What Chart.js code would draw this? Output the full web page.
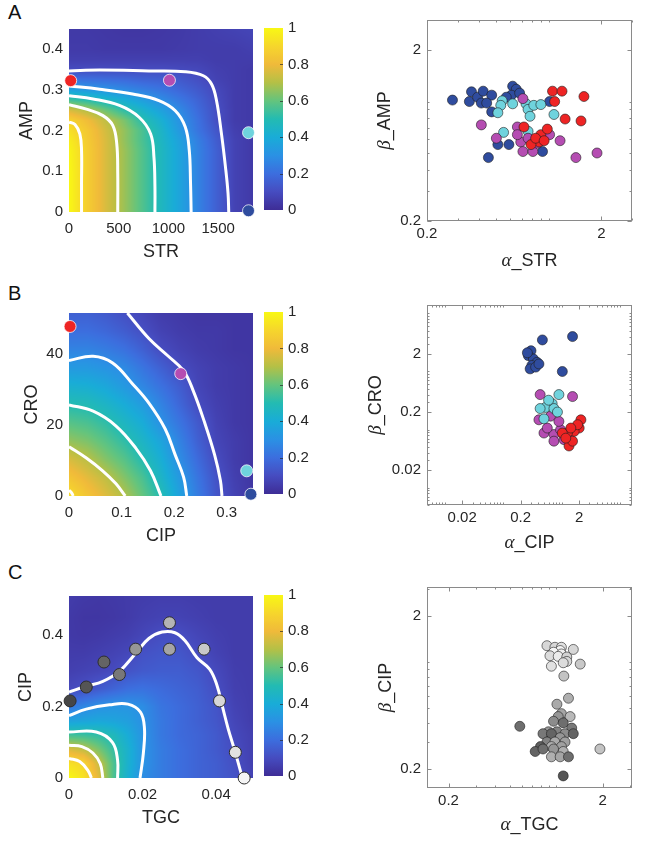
<!DOCTYPE html>
<html>
<head>
<meta charset="utf-8">
<script src="https://cdn.jsdelivr.net/npm/chart.js@4.4.1/dist/chart.umd.min.js"></script>
<style>
  body { margin: 0; background: #fff; }
  #fig { position: relative; width: 645px; height: 844px; overflow: hidden; }
  .panel { position: absolute; left: 8px; font: 20px "Liberation Sans", Arial, sans-serif; color: #111; }
</style>
</head>
<body>
<div id="fig">
  <div class="panel" style="top:1px">A</div>
  <div class="panel" style="top:282px">B</div>
  <div class="panel" style="top:561px">C</div>
</div>
<script>
// ===== DATA =====

// --- A: STR x AMP surface ---
const strTicks = [0, 500, 1000, 1500];
const ampTicks = [0, 0.1, 0.2, 0.3, 0.4];
const strGrid = [0, 185, 370, 555, 740, 925, 1110, 1295, 1480, 1665, 1850];
const ampGrid = [0, 0.1, 0.15, 0.175, 0.2, 0.225, 0.25, 0.275, 0.3, 0.325, 0.35, 0.375, 0.4, 0.45];
const effStrAmp = [
  [1.00, 0.87, 0.76, 0.67, 0.57, 0.47, 0.37, 0.26, 0.16, 0.07, 0.04],
  [1.00, 0.87, 0.76, 0.67, 0.57, 0.47, 0.37, 0.26, 0.16, 0.07, 0.04],
  [0.99, 0.87, 0.76, 0.67, 0.57, 0.47, 0.37, 0.26, 0.16, 0.07, 0.04],
  [0.97, 0.86, 0.76, 0.66, 0.56, 0.46, 0.36, 0.25, 0.15, 0.07, 0.04],
  [0.93, 0.85, 0.75, 0.66, 0.56, 0.45, 0.33, 0.22, 0.13, 0.06, 0.04],
  [0.89, 0.81, 0.72, 0.63, 0.51, 0.42, 0.31, 0.21, 0.11, 0.05, 0.04],
  [0.76, 0.70, 0.61, 0.52, 0.44, 0.36, 0.28, 0.19, 0.11, 0.05, 0.04],
  [0.55, 0.51, 0.46, 0.41, 0.35, 0.29, 0.23, 0.17, 0.10, 0.05, 0.04],
  [0.36, 0.33, 0.31, 0.28, 0.25, 0.22, 0.18, 0.14, 0.09, 0.05, 0.04],
  [0.22, 0.21, 0.20, 0.19, 0.17, 0.16, 0.14, 0.11, 0.07, 0.05, 0.04],
  [0.10, 0.10, 0.10, 0.10, 0.10, 0.10, 0.095, 0.085, 0.06, 0.05, 0.04],
  [0.06, 0.06, 0.06, 0.06, 0.06, 0.06, 0.06, 0.06, 0.05, 0.05, 0.05],
  [0.045, 0.045, 0.04, 0.04, 0.04, 0.04, 0.045, 0.05, 0.05, 0.05, 0.06],
  [0.04, 0.04, 0.035, 0.03, 0.03, 0.035, 0.04, 0.05, 0.06, 0.07, 0.08]
];
// iso-lines 0.1, 0.3, 0.5, 0.7, 0.9 as [STR, AMP]
const strAmpContours = [
  [[0, 0.347], [308, 0.349], [805, 0.347], [1169, 0.345], [1351, 0.335], [1434, 0.314], [1483, 0.274], [1533, 0.192], [1573, 0.111], [1599, 0.046], [1606, 0]],
  [[0, 0.310], [308, 0.302], [639, 0.290], [904, 0.274], [1069, 0.249], [1169, 0.209], [1209, 0.152], [1222, 0.070], [1228, 0]],
  [[0, 0.286], [242, 0.278], [507, 0.262], [705, 0.233], [821, 0.192], [854, 0.135], [864, 0.062], [864, 0]],
  [[0, 0.264], [175, 0.253], [341, 0.237], [440, 0.213], [480, 0.168], [490, 0.095], [490, 0]],
  [[0, 0.221], [60, 0.215], [109, 0.192], [126, 0.152], [126, 0.070], [126, 0]]
];
const strDose = [17, 1010, 1805, 1805];
const ampDose = [0.323, 0.324, 0.195, 0.003];

// --- A: alpha_STR x beta_AMP fits ---
const alphaStrRed = [1.05, 1.19, 1.08, 1.59, 1.24, 1.53, 0.72, 0.90, 0.88, 0.98, 0.79, 0.84, 0.94];
const betaAmpRed = [1.15, 1.15, 1.00, 1.07, 0.79, 0.77, 0.71, 0.64, 0.58, 0.69, 0.56, 0.61, 0.59];
const alphaStrMagenta = [0.41, 0.71, 0.66, 0.50, 0.69, 0.76, 0.71, 0.81, 1.01, 1.16, 1.43, 1.89, 0.86, 0.66];
const betaAmpMagenta = [0.73, 1.04, 0.71, 0.61, 0.58, 0.61, 0.51, 0.51, 0.64, 0.59, 0.47, 0.50, 0.57, 0.64];
const alphaStrCyan = [0.54, 0.53, 0.62, 0.74, 0.76, 0.82, 0.90, 0.78, 1.07, 0.55, 0.76, 0.51];
const betaAmpCyan = [1.01, 0.95, 0.97, 0.97, 0.90, 0.95, 0.96, 0.82, 0.84, 0.66, 0.67, 0.86];
const alphaStrBlue = [0.28, 0.36, 0.35, 0.39, 0.42, 0.41, 0.47, 0.44, 0.47, 0.62, 0.65, 0.61, 0.68, 0.57, 1.01, 0.51, 0.59, 0.45, 0.92];
const betaAmpBlue = [1.02, 1.14, 1.00, 1.06, 1.15, 0.98, 1.09, 0.98, 0.87, 1.23, 1.18, 1.09, 1.12, 1.06, 1.00, 0.56, 0.56, 0.47, 0.51];

// --- B: CIP x CRO surface ---
const cipTicksB = [0, 0.1, 0.2, 0.3];
const croTicks = [0, 20, 40];
const cipGridB = [0, 0.035, 0.07, 0.105, 0.14, 0.175, 0.21, 0.245, 0.28, 0.315, 0.35];
const croGrid = [0, 5.16, 10.32, 15.48, 20.64, 25.8, 30.96, 36.12, 41.28, 46.44, 51.6];
const effCipCro = [
  [0.92, 0.84, 0.77, 0.70, 0.60, 0.50, 0.36, 0.24, 0.13, 0.07, 0.03],
  [0.84, 0.78, 0.72, 0.64, 0.56, 0.45, 0.33, 0.22, 0.12, 0.06, 0.03],
  [0.76, 0.71, 0.64, 0.58, 0.50, 0.41, 0.29, 0.19, 0.10, 0.05, 0.03],
  [0.66, 0.63, 0.58, 0.52, 0.45, 0.37, 0.26, 0.16, 0.08, 0.05, 0.03],
  [0.58, 0.56, 0.52, 0.46, 0.40, 0.30, 0.22, 0.14, 0.07, 0.04, 0.03],
  [0.50, 0.49, 0.45, 0.40, 0.34, 0.26, 0.18, 0.10, 0.06, 0.04, 0.03],
  [0.42, 0.41, 0.38, 0.33, 0.27, 0.21, 0.15, 0.08, 0.05, 0.04, 0.03],
  [0.33, 0.33, 0.31, 0.28, 0.22, 0.16, 0.10, 0.07, 0.05, 0.04, 0.03],
  [0.26, 0.26, 0.24, 0.21, 0.16, 0.10, 0.07, 0.05, 0.04, 0.03, 0.03],
  [0.20, 0.20, 0.18, 0.15, 0.11, 0.07, 0.05, 0.04, 0.04, 0.03, 0.03],
  [0.16, 0.16, 0.14, 0.11, 0.08, 0.05, 0.04, 0.03, 0.03, 0.03, 0.03]
];
const cipCroContours = [
  [[0.111, 51.6], [0.152, 44.4], [0.189, 39.4], [0.218, 35.3], [0.236, 29.8], [0.258, 20.7], [0.277, 11.6], [0.288, 4.4], [0.291, 0]],
  [[0, 38.2], [0.046, 39.4], [0.083, 37.5], [0.121, 31.6], [0.152, 26.2], [0.183, 18.9], [0.202, 11.6], [0.218, 5.3], [0.224, 0]],
  [[0, 25.7], [0.046, 23.9], [0.089, 19.8], [0.127, 13.5], [0.155, 7.1], [0.175, 0]],
  [[0, 13.9], [0.033, 10.7], [0.064, 7.1], [0.089, 3.5], [0.107, 0]],
  [[0, 1.6], [0.005, 0.9], [0.008, 0]]
];
const cipDoseB = [0.002, 0.2125, 0.338, 0.346];
const croDose = [47.8, 34.5, 7.1, 0.5];

// --- B: alpha_CIP x beta_CRO fits ---
const alphaCipRed = [2.14, 2.0, 1.64, 1.26, 1.34, 1.54, 1.03, 1.88, 1.44, 1.18];
const betaCroRed = [0.147, 0.106, 0.093, 0.087, 0.052, 0.063, 0.087, 0.121, 0.106, 0.071];
const alphaCipMagenta = [0.43, 1.54, 0.41, 0.65, 0.50, 0.74, 0.96, 0.74, 1.10, 1.34, 0.57, 0.90];
const betaCroMagenta = [0.40, 0.37, 0.147, 0.17, 0.087, 0.082, 0.099, 0.063, 0.067, 0.077, 0.106, 0.138];
const alphaCipCyan = [0.90, 0.69, 0.53, 0.74, 0.43, 0.50, 0.85, 0.60];
const betaCroCyan = [0.40, 0.28, 0.24, 0.23, 0.23, 0.153, 0.20, 0.32];
const alphaCipBlue = [0.47, 1.54, 0.30, 0.27, 0.33, 0.38, 0.31, 0.29, 0.36, 0.41, 1.03, 0.26];
const betaCroBlue = [3.5, 4.0, 2.28, 1.88, 1.64, 1.44, 1.27, 1.11, 1.19, 1.35, 1.00, 2.1];

// --- C: TGC x CIP surface ---
const tgcTicks = [0, 0.02, 0.04];
const cipTicksC = [0, 0.2, 0.4];
const tgcGrid = [0, 0.004, 0.008, 0.012, 0.016, 0.02, 0.025, 0.03, 0.035, 0.04, 0.045, 0.05];
const cipGridC = [0, 0.04, 0.08, 0.12, 0.16, 0.2, 0.25, 0.3, 0.35, 0.4, 0.45, 0.51];
const effTgcCip = [
  [1.00, 0.935, 0.78, 0.57, 0.42, 0.29, 0.24, 0.20, 0.17, 0.15, 0.12, 0.07],
  [0.93, 0.90, 0.74, 0.57, 0.43, 0.31, 0.24, 0.20, 0.17, 0.15, 0.11, 0.06],
  [0.765, 0.72, 0.63, 0.53, 0.43, 0.31, 0.24, 0.20, 0.17, 0.14, 0.10, 0.06],
  [0.55, 0.54, 0.52, 0.48, 0.40, 0.31, 0.23, 0.19, 0.17, 0.14, 0.09, 0.06],
  [0.36, 0.37, 0.38, 0.37, 0.35, 0.30, 0.23, 0.19, 0.16, 0.13, 0.08, 0.05],
  [0.23, 0.27, 0.30, 0.315, 0.315, 0.29, 0.22, 0.19, 0.16, 0.125, 0.07, 0.05],
  [0.09, 0.11, 0.14, 0.17, 0.20, 0.21, 0.19, 0.17, 0.15, 0.105, 0.06, 0.05],
  [0.06, 0.07, 0.08, 0.095, 0.12, 0.14, 0.15, 0.15, 0.13, 0.09, 0.055, 0.05],
  [0.05, 0.05, 0.06, 0.07, 0.085, 0.115, 0.13, 0.13, 0.10, 0.07, 0.05, 0.05],
  [0.04, 0.035, 0.04, 0.05, 0.06, 0.08, 0.105, 0.105, 0.08, 0.06, 0.05, 0.05],
  [0.04, 0.03, 0.03, 0.035, 0.045, 0.06, 0.07, 0.07, 0.06, 0.05, 0.05, 0.05],
  [0.05, 0.04, 0.035, 0.04, 0.045, 0.05, 0.055, 0.055, 0.05, 0.05, 0.05, 0.05]
];
const tgcCipContours = [
  [[0, 0.241], [0.0047, 0.257], [0.0092, 0.271], [0.0137, 0.299], [0.0181, 0.349], [0.0217, 0.391], [0.0253, 0.409], [0.0288, 0.407], [0.0315, 0.385], [0.0348, 0.337], [0.0382, 0.305], [0.0402, 0.260], [0.0417, 0.200], [0.0432, 0.140], [0.0450, 0.078], [0.0468, 0.012], [0.0471, 0]],
  [[0, 0.175], [0.0047, 0.193], [0.011, 0.205], [0.0160, 0.207], [0.0194, 0.185], [0.0205, 0.140], [0.0202, 0.069], [0.0193, 0]],
  [[0, 0.129], [0.0074, 0.129], [0.0118, 0.100], [0.0132, 0.050], [0.0132, 0]],
  [[0, 0.092], [0.0035, 0.088], [0.0065, 0.070], [0.0085, 0.040], [0.0092, 0]],
  [[0, 0.055], [0.0029, 0.046], [0.0052, 0.020], [0.0061, 0]]
];
const tgcDose = [0.0003, 0.0047, 0.0095, 0.0137, 0.0181, 0.0273, 0.0273, 0.0367, 0.0409, 0.0452, 0.0476];
const cipDoseC = [0.216, 0.255, 0.325, 0.290, 0.361, 0.435, 0.361, 0.361, 0.216, 0.072, 0.0];

// --- C: alpha_TGC x beta_CIP fits ---
const alphaTgc = [0.87, 0.98, 1.08, 1.06, 0.96, 1.08, 1.29, 0.91, 1.03, 1.17, 1.17, 1.11, 1.43, 0.93, 1.12,
  1.20, 1.01, 1.08, 1.23, 1.03, 0.96, 0.58, 1.11, 1.26, 0.89, 1.01, 1.14, 0.82, 0.93, 1.29, 1.06,
  0.87, 0.98, 1.14, 0.79, 0.93, 1.08, 0.73, 0.82, 0.96, 1.11, 0.93, 1.06, 1.20, 1.11, 1.92];
const betaCip = [1.28, 1.25, 1.25, 1.19, 1.16, 1.13, 1.21, 1.10, 1.09, 1.08, 1.01, 0.99, 0.97, 0.94, 0.81,
  0.58, 0.53, 0.46, 0.44, 0.44, 0.41, 0.38, 0.40, 0.37, 0.35, 0.35, 0.34, 0.34, 0.34, 0.34, 0.32,
  0.30, 0.30, 0.30, 0.28, 0.28, 0.28, 0.26, 0.27, 0.27, 0.26, 0.24, 0.24, 0.24, 0.18, 0.27];

const cbarTicks = [0, 0.2, 0.4, 0.6, 0.8, 1];
const scatTicksAC = [0.2, 2];
const scatTicksB = [0.02, 0.2, 2];

// ===== STYLE =====
const FONT = '"Liberation Sans", Arial, Helvetica, sans-serif';
const INK = '#262626';
const RED = '#ee2424', MAGENTA = '#b54db2', CYAN = '#6fd3dd', BLUE = '#2f4c9e';
const doseColors = [RED, MAGENTA, CYAN, BLUE];
// grey level of each TGC dose point and of each TGC fit point
const tgcDoseShade = [70, 85, 100, 120, 150, 180, 165, 200, 215, 225, 245];
const tgcFitShade = [215, 215, 225, 245, 245, 240, 215, 220, 235, 210, 215, 220, 200, 225, 195,
  175, 170, 165, 185, 150, 140, 110, 110, 120, 150, 130, 140, 120, 100, 100, 150,
  130, 170, 160, 95, 175, 160, 100, 110, 150, 175, 175, 165, 110, 85, 195];
const grey = v => `rgb(${v},${v},${v})`;

// parula-like colour stops
const PARULA = [
  [0.00, [62, 45, 150]], [0.10, [70, 76, 192]], [0.20, [60, 110, 222]], [0.30, [42, 145, 228]],
  [0.40, [25, 172, 215]], [0.50, [35, 187, 178]], [0.60, [100, 196, 125]], [0.70, [180, 192, 70]],
  [0.80, [240, 186, 58]], [0.90, [246, 214, 44]], [1.00, [248, 248, 20]]
];
function parula(v) {
  v = Math.max(0, Math.min(1, v));
  for (let i = 0; i < PARULA.length - 1; i++) {
    const [a, ca] = PARULA[i], [b, cb] = PARULA[i + 1];
    if (v <= b) {
      const t = (v - a) / (b - a);
      return [0, 1, 2].map(k => Math.round(ca[k] + (cb[k] - ca[k]) * t));
    }
  }
  return PARULA[PARULA.length - 1][1];
}

const pts = (xs, ys) => xs.map((x, i) => ({ x, y: ys[i] }));

function seg(arr, v) {
  let i = 0;
  while (i < arr.length - 2 && v > arr[i + 1]) i++;
  const t = Math.min(1, Math.max(0, (v - arr[i]) / (arr[i + 1] - arr[i])));
  return [i, t];
}
function fieldAt(xs, ys, z, xv, yv) {
  const [i, tx] = seg(xs, xv);
  const [j, ty] = seg(ys, yv);
  const a = z[j][i] + (z[j][i + 1] - z[j][i]) * tx;
  const b = z[j + 1][i] + (z[j + 1][i + 1] - z[j + 1][i]) * tx;
  return a + (b - a) * ty;
}

function makeCanvas(left, top, w, h) {
  const c = document.createElement('canvas');
  c.width = w; c.height = h;
  c.style.cssText = `position:absolute;left:${left}px;top:${top}px;width:${w}px;height:${h}px`;
  document.getElementById('fig').appendChild(c);
  return c;
}

const setTicks = list => axis => { axis.ticks = list.map(v => ({ value: v })); };
const noGrid = { display: false, drawTicks: false };
const common = {
  responsive: false, animation: false, events: [],
  plugins: { legend: { display: false }, tooltip: { enabled: false } }
};

// surface image drawn through the chart scales
function fieldPlugin(xs, ys, z) {
  return {
    id: 'field',
    beforeDatasetsDraw(chart) {
      const { ctx, chartArea: a, scales: { x, y } } = chart;
      const w = Math.round(a.right - a.left), h = Math.round(a.bottom - a.top);
      const off = document.createElement('canvas');
      off.width = w; off.height = h;
      const octx = off.getContext('2d');
      const img = octx.createImageData(w, h);
      for (let j = 0; j < h; j++) {
        const yv = y.getValueForPixel(a.top + j + 0.5);
        for (let i = 0; i < w; i++) {
          const c = parula(fieldAt(xs, ys, z, x.getValueForPixel(a.left + i + 0.5), yv));
          const k = (j * w + i) * 4;
          img.data[k] = c[0]; img.data[k + 1] = c[1]; img.data[k + 2] = c[2]; img.data[k + 3] = 255;
        }
      }
      octx.putImageData(img, 0, 0);
      ctx.drawImage(off, a.left, a.top);
    }
  };
}

function heatChart(o) {
  const W = 260, XH = 52;
  const cv = makeCanvas(0, o.t - 12, W, o.b - o.t + 12 + XH);
  const sets = [{
    data: pts(o.dotX, o.dotY), backgroundColor: o.dotColors, borderColor: o.dotEdge,
    borderWidth: 1, pointRadius: 6, clip: false
  }].concat(o.contours.map(c => ({
    data: c.map(p => ({ x: p[0], y: p[1] })), showLine: true, borderColor: '#ffffff',
    borderWidth: 3, pointRadius: 0, tension: 0.4
  })));
  const tickFont = { family: FONT, size: 15 };
  const titleFont = { family: FONT, size: 18 };
  new Chart(cv, {
    type: 'scatter',
    data: { datasets: sets },
    options: Object.assign({}, common, {
      layout: { padding: { left: 0, top: 12, right: W - o.r, bottom: 0 } },
      scales: {
        x: {
          type: 'linear', min: o.xMin, max: o.xMax,
          afterBuildTicks: setTicks(o.xTicks), afterFit: a => { a.height = XH; },
          grid: noGrid, border: { display: false },
          ticks: { font: tickFont, color: INK, padding: 8, maxRotation: 0, autoSkip: false, callback: v => String(v) },
          title: { display: true, text: o.xTitle, font: titleFont, color: INK, padding: { top: 0, bottom: 1 } }
        },
        y: {
          type: 'linear', min: o.yMin, max: o.yMax,
          afterBuildTicks: setTicks(o.yTicks), afterFit: a => { a.width = o.l; },
          grid: noGrid, border: { display: false },
          ticks: { font: tickFont, color: INK, padding: 6, autoSkip: false, callback: v => String(v) },
          title: { display: true, text: o.yTitle, font: titleFont, color: INK, padding: { top: o.yTitleX - 10.8, bottom: 0 } }
        }
      }
    }),
    plugins: [fieldPlugin(o.xs, o.ys, o.z)]
  });
}

const colorbarPlugin = {
  id: 'colorbar',
  beforeDatasetsDraw(chart) {
    const { ctx, chartArea: a, scales: { y } } = chart;
    const g = ctx.createLinearGradient(0, a.bottom, 0, a.top);
    for (let i = 0; i <= 50; i++) {
      const c = parula(i / 50);
      g.addColorStop(i / 50, `rgb(${c[0]},${c[1]},${c[2]})`);
    }
    ctx.save();
    ctx.fillStyle = g;
    ctx.fillRect(a.left, a.top, a.right - a.left, a.bottom - a.top);
    ctx.strokeStyle = 'rgba(40,40,40,0.7)';
    ctx.lineWidth = 1;
    cbarTicks.slice(1, -1).forEach(v => {
      const py = Math.round(y.getPixelForValue(v)) + 0.5;
      ctx.beginPath(); ctx.moveTo(a.right - 3, py); ctx.lineTo(a.right, py); ctx.stroke();
    });
    ctx.restore();
  }
};

function colorbar(t, b) {
  const W = 62;
  const cv = makeCanvas(258, t - 12, W, b - t + 24);
  new Chart(cv, {
    type: 'scatter',
    data: { datasets: [] },
    options: Object.assign({}, common, {
      layout: { padding: { left: 6, top: 12, right: 0, bottom: 12 } },
      scales: {
        x: { display: false, min: 0, max: 1 },
        y: {
          position: 'right', min: 0, max: 1,
          afterBuildTicks: setTicks(cbarTicks), afterFit: a => { a.width = W - 6 - 19; },
          grid: noGrid, border: { display: false },
          ticks: { font: { family: FONT, size: 15 }, color: INK, padding: 5, callback: v => String(v) }
        }
      }
    }),
    plugins: [colorbarPlugin]
  });
}

// box with inward MATLAB-style ticks
function logMinor(min, max) {
  const out = [];
  for (let k = Math.floor(Math.log10(min)); k <= Math.ceil(Math.log10(max)); k++) {
    for (let m = 1; m <= 9; m++) {
      const v = m * Math.pow(10, k);
      if (v >= min && v <= max) out.push(v);
    }
  }
  return out;
}
const framePlugin = {
  id: 'frame',
  afterDraw(chart) {
    const { ctx, chartArea: a, scales: { x, y } } = chart;
    const L = Math.round(a.left) + 0.5, R = Math.round(a.right) - 0.5;
    const T = Math.round(a.top) + 0.5, B = Math.round(a.bottom) - 0.5;
    ctx.save();
    ctx.strokeStyle = '#8a8a8a';
    ctx.lineWidth = 1;
    ctx.strokeRect(L, T, R - L, B - T);
    const line = (x1, y1, x2, y2) => { ctx.beginPath(); ctx.moveTo(x1, y1); ctx.lineTo(x2, y2); ctx.stroke(); };
    const xMajor = x.ticks.map(t => t.value), yMajor = y.ticks.map(t => t.value);
    logMinor(x.min, x.max).forEach(v => {
      const px = Math.round(x.getPixelForValue(v)) + 0.5;
      line(px, B, px, B - 2); line(px, T, px, T + 2);
    });
    logMinor(y.min, y.max).forEach(v => {
      const py = Math.round(y.getPixelForValue(v)) + 0.5;
      line(L, py, L + 2, py); line(R, py, R - 2, py);
    });
    xMajor.forEach(v => {
      const px = Math.round(x.getPixelForValue(v)) + 0.5;
      line(px, B, px, B - 4); line(px, T, px, T + 4);
    });
    yMajor.forEach(v => {
      const py = Math.round(y.getPixelForValue(v)) + 0.5;
      line(L, py, L + 4, py); line(R, py, R - 4, py);
    });
    ctx.restore();
  }
};

// axis titles with a Greek italic prefix (alpha_..., beta_...)
const GREEK = 'italic 19px "Liberation Serif", "DejaVu Serif", serif';
const LABEL = `18px ${FONT}`;
function drawParts(ctx, parts, cx, cy) {
  let w = 0;
  parts.forEach(p => { ctx.font = p.font; w += ctx.measureText(p.text).width; });
  let x = cx - w / 2;
  parts.forEach(p => { ctx.font = p.font; ctx.fillText(p.text, x, cy); x += ctx.measureText(p.text).width; });
}
function greekTitles(xName, yName, xOff, yOff) {
  return {
    id: 'greekTitles',
    afterDraw(chart) {
      const { ctx, chartArea: a } = chart;
      ctx.save();
      ctx.fillStyle = INK;
      ctx.textBaseline = 'middle';
      ctx.textAlign = 'left';
      drawParts(ctx, [{ text: 'α', font: GREEK }, { text: xName, font: LABEL }], (a.left + a.right) / 2, a.bottom + xOff);
      ctx.translate(a.left - yOff, (a.top + a.bottom) / 2);
      ctx.rotate(-Math.PI / 2);
      drawParts(ctx, [{ text: 'β', font: GREEK }, { text: yName, font: LABEL }], 0, 0);
      ctx.restore();
    }
  };
}

function scatterChart(o) {
  const LEFT = 360, W = 285, XH = 55;
  const cv = makeCanvas(LEFT, o.t - 12, W, o.b - o.t + 12 + XH);
  const tickFont = { family: FONT, size: 15 };
  const logAxis = (min, max, list, fit, pad) => ({
    type: 'logarithmic', min, max,
    afterBuildTicks: setTicks(list), afterFit: fit,
    grid: noGrid, border: { display: false },
    ticks: { font: tickFont, color: INK, padding: pad, maxRotation: 0, autoSkip: false, callback: v => String(v) }
  });
  new Chart(cv, {
    type: 'scatter',
    data: {
      datasets: o.sets.map(s => ({
        data: pts(s.x, s.y), backgroundColor: s.color, borderColor: '#1e1e1e',
        borderWidth: 0.6, pointRadius: 5
      }))
    },
    options: Object.assign({}, common, {
      layout: { padding: { left: 0, top: 12, right: W - (632 - LEFT), bottom: 0 } },
      scales: {
        x: logAxis(o.xMin, o.xMax, o.ticks, a => { a.height = XH; }, 4),
        y: logAxis(o.yMin, o.yMax, o.ticks, a => { a.width = 427 - LEFT; }, 6)
      }
    }),
    plugins: [framePlugin, greekTitles(o.xName, o.yName, o.xOff, o.yOff)]
  });
}

// ===== PANEL A =====
heatChart({
  l: 69, r: 256, t: 26, b: 212, xMin: 0, xMax: 1850, yMin: 0, yMax: 0.45,
  xTicks: strTicks, yTicks: ampTicks, xTitle: 'STR', yTitle: 'AMP', yTitleX: 27,
  xs: strGrid, ys: ampGrid, z: effStrAmp, contours: strAmpContours,
  dotX: strDose, dotY: ampDose, dotColors: doseColors, dotEdge: 'rgba(255,255,255,0.75)'
});
colorbar(26, 212);
scatterChart({
  t: 17, b: 221, xMin: 0.2, xMax: 3, yMin: 0.2, yMax: 3, ticks: scatTicksAC,
  xName: '_STR', yName: '_AMP', xOff: 40, yOff: 42,
  sets: [
    { x: alphaStrRed, y: betaAmpRed, color: RED },
    { x: alphaStrMagenta, y: betaAmpMagenta, color: MAGENTA },
    { x: alphaStrCyan, y: betaAmpCyan, color: CYAN },
    { x: alphaStrBlue, y: betaAmpBlue, color: BLUE }
  ]
});

// ===== PANEL B =====
heatChart({
  l: 69, r: 256, t: 310, b: 496, xMin: 0, xMax: 0.35, yMin: 0, yMax: 51.6,
  xTicks: cipTicksB, yTicks: croTicks, xTitle: 'CIP', yTitle: 'CRO', yTitleX: 32,
  xs: cipGridB, ys: croGrid, z: effCipCro, contours: cipCroContours,
  dotX: cipDoseB, dotY: croDose, dotColors: doseColors, dotEdge: 'rgba(255,255,255,0.75)'
});
colorbar(310, 496);
scatterChart({
  t: 302, b: 505, xMin: 0.005, xMax: 16, yMin: 0.005, yMax: 14, ticks: scatTicksB,
  xName: '_CIP', yName: '_CRO', xOff: 38, yOff: 51,
  sets: [
    { x: alphaCipRed, y: betaCroRed, color: RED },
    { x: alphaCipCyan, y: betaCroCyan, color: CYAN },
    { x: alphaCipMagenta, y: betaCroMagenta, color: MAGENTA },
    { x: alphaCipBlue, y: betaCroBlue, color: BLUE }
  ]
});

// ===== PANEL C =====
heatChart({
  l: 69, r: 256, t: 593, b: 778, xMin: 0, xMax: 0.05, yMin: 0, yMax: 0.51,
  xTicks: tgcTicks, yTicks: cipTicksC, xTitle: 'TGC', yTitle: 'CIP', yTitleX: 26,
  xs: tgcGrid, ys: cipGridC, z: effTgcCip, contours: tgcCipContours,
  dotX: tgcDose, dotY: cipDoseC, dotColors: tgcDoseShade.map(grey), dotEdge: '#2e2e2e'
});
colorbar(593, 778);
scatterChart({
  t: 584, b: 788, xMin: 0.145, xMax: 3.1, yMin: 0.15, yMax: 3.1, ticks: scatTicksAC,
  xName: '_TGC', yName: '_CIP', xOff: 37, yOff: 41,
  sets: [{ x: alphaTgc, y: betaCip, color: tgcFitShade.map(grey) }]
});
</script>
</body>
</html>
